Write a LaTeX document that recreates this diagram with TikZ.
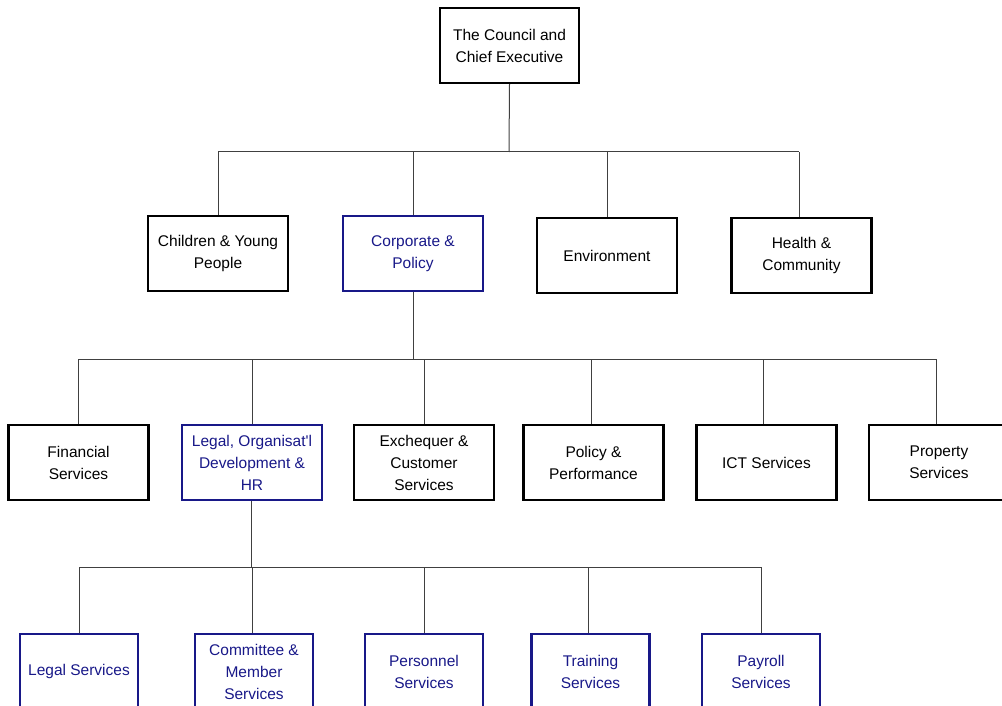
\documentclass[tikz,border=0pt]{standalone}
\usepackage{fontspec}
\setmainfont{Liberation Sans}
\begin{document}
\begin{tikzpicture}[x=1pt,y=-1pt,
  box/.style={draw=black,line width=2.2pt,minimum width=140pt,minimum height=75pt,
    align=center,inner sep=0pt,font=\fontsize{15.5}{22}\selectfont,text=black},
  bbox/.style={box,draw=navy,text=navy},
  sbox/.style={bbox,minimum width=118pt},
  conn/.style={draw=black!75,line width=1pt}]
\definecolor{navy}{RGB}{24,24,136}
\useasboundingbox (0,0) rectangle (1002,706);
\clip (0,0) rectangle (1002,706);
% level 0
\node[box,minimum width=139pt] (top) at (509.5,45.5) {The Council and\\Chief Executive};
% level 1
\node[box] (cyp) at (218,253.5) {Children \& Young\\People};
\node[bbox] (corp) at (413,253.5) {Corporate \&\\Policy};
\node[box] (env) at (607,255.5) {Environment};
\node[box] (hc) at (801.5,255.5) {Health \&\\Community};
% level 2
\node[box] (fin) at (78.5,462.5) {Financial\\Services};
\node[bbox] (leg) at (252,462.5) {Legal, Organisat\textquotesingle l\\Development \&\\HR};
\node[box] (exc) at (424,462.5) {Exchequer \&\\Customer\\Services};
\node[box] (pol) at (593.5,462.5) {Policy \&\\Performance};
\node[box] (ict) at (766.5,462.5) {ICT Services};
\node[box] (prop) at (939,462.5) {Property\\Services};
% level 3
\node[sbox] (ls) at (79,671.5) {Legal Services};
\node[sbox] (cms) at (254,671.5) {Committee \&\\Member\\Services};
\node[sbox] (ps) at (424,671.5) {Personnel\\Services};
\node[sbox] (ts) at (590.5,671.5) {Training\\Services};
\node[sbox] (pay) at (761,671.5) {Payroll\\Services};
% buses
\coordinate (b1) at (509,152);
\coordinate (b2) at (413,359);
\coordinate (b3) at (251,567);
\coordinate (hcx) at ([xshift=-2.5pt]hc.north);
\coordinate (propx) at ([xshift=-2.5pt]prop.north);
% connectors level 0 -> 1
\draw[conn] (top.south) -- (b1);
\draw[conn] (cyp.north |- b1) -- (hcx |- b1);
\draw[conn] (cyp.north) -- (cyp.north |- b1);
\draw[conn] (corp.north) -- (corp.north |- b1);
\draw[conn] (env.north) -- (env.north |- b1);
\draw[conn] (hcx) -- (hcx |- b1);
% connectors level 1 -> 2
\draw[conn] (corp.south) -- (b2);
\draw[conn] (fin.north |- b2) -- (propx |- b2);
\draw[conn] (fin.north) -- (fin.north |- b2);
\draw[conn] (leg.north) -- (leg.north |- b2);
\draw[conn] (exc.north) -- (exc.north |- b2);
\draw[conn] ([xshift=-2.5pt]pol.north) -- ([xshift=-2.5pt]pol.north |- b2);
\draw[conn] ([xshift=-3.5pt]ict.north) -- ([xshift=-3.5pt]ict.north |- b2);
\draw[conn] (propx) -- (propx |- b2);
% connectors level 2 -> 3
\draw[conn] ([xshift=-1pt]leg.south) -- (b3);
\draw[conn] (ls.north |- b3) -- (pay.north |- b3);
\draw[conn] (ls.north) -- (ls.north |- b3);
\draw[conn] ([xshift=-2pt]cms.north) -- ([xshift=-2pt]cms.north |- b3);
\draw[conn] (ps.north) -- (ps.north |- b3);
\draw[conn] ([xshift=-2.5pt]ts.north) -- ([xshift=-2.5pt]ts.north |- b3);
\draw[conn] (pay.north) -- (pay.north |- b3);
\end{tikzpicture}
\end{document}
